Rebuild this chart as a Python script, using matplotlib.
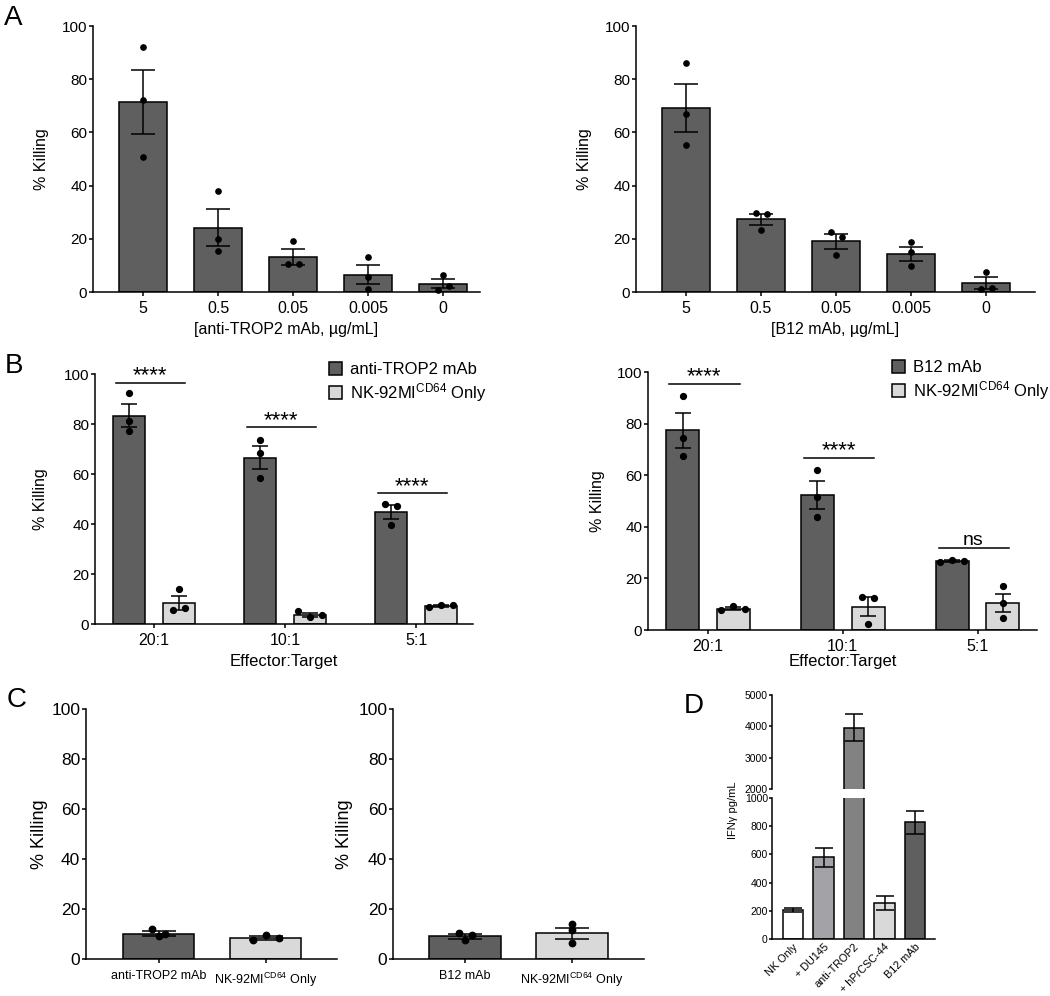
import matplotlib
matplotlib.use("Agg")
import matplotlib.pyplot as plt
from matplotlib.patches import Patch
import matplotlib.transforms as mtransforms

plt.rcParams['font.family'] = ['Liberation Sans', 'DejaVu Sans']
plt.rcParams['mathtext.fontset'] = 'custom'
plt.rcParams['mathtext.rm'] = 'Liberation Sans'
plt.rcParams['mathtext.it'] = 'Liberation Sans'

# ---------------- data ----------------
conc_labels = ['5', '0.5', '0.05', '0.005', '0']
a_trop_mean = [71.5, 24.2, 13.1, 6.5, 3.1]
a_trop_sem = [12.0, 7.0, 2.9, 3.6, 1.6]
a_trop_pts = [[92.2, 72.3, 50.6], [38.0, 19.8, 15.3], [19.0, 10.4, 10.7],
              [13.2, 5.6, 1.0], [6.4, 0.9, 2.4]]
a_b12_mean = [69.2, 27.3, 19.0, 14.3, 3.3]
a_b12_sem = [9.0, 2.1, 2.7, 2.6, 2.2]
a_b12_pts = [[86.1, 66.9, 55.3], [29.8, 29.4, 23.3], [22.6, 20.8, 13.9],
             [18.7, 14.9, 9.8], [7.5, 1.3, 1.4]]

et_labels = ['20:1', '10:1', '5:1']
b_trop_mean = [83.2, 66.5, 44.7]
b_trop_sem = [4.6, 4.5, 2.7]
b_trop_pts = [[92.3, 81.3, 77.2], [73.5, 68.3, 58.3], [48.1, 47.1, 39.7]]
b_nk1_mean = [8.4, 3.8, 7.3]
b_nk1_sem = [2.9, 0.8, 0.3]
b_nk1_pts = [[14.0, 5.5, 6.4], [5.3, 3.0, 3.5], [6.8, 7.6, 7.5]]
b_sig1_y = [96.4, 78.7, 52.3]
b_sig1_txt = ['****', '****', '****']

b_b12_mean = [77.4, 52.3, 26.7]
b_b12_sem = [6.9, 5.3, 0.3]
b_b12_pts = [[90.7, 74.6, 67.4], [62.2, 51.4, 43.9], [26.5, 27.1, 26.7]]
b_nk2_mean = [8.3, 9.0, 10.3]
b_nk2_sem = [0.7, 3.6, 3.5]
b_nk2_pts = [[7.7, 9.4, 8.3], [12.9, 12.5, 2.3], [16.9, 10.3, 4.8]]
b_sig2_y = [95.5, 66.7, 31.9]
b_sig2_txt = ['****', '****', 'ns']

c1_labels = ['anti-TROP2 mAb', 'NK-92MI$^{\\mathrm{CD64}}$ Only']
c1_mean = [10.2, 8.4]
c1_sem = [1.0, 0.7]
c1_pts = [[12.0, 9.1, 10.1], [7.5, 9.6, 8.3]]
c2_labels = ['B12 mAb', 'NK-92MI$^{\\mathrm{CD64}}$ Only']
c2_mean = [9.1, 10.4]
c2_sem = [1.0, 2.2]
c2_pts = [[7.7, 10.4, 9.5], [14.1, 11.5, 6.4]]

d_labels = ['NK Only', '+ DU145', 'anti-TROP2', '+ hPrCSC-44', 'B12 mAb']
d_mean = [205, 580, 3960, 255, 827]
d_sem = [12, 68, 420, 50, 82]
d_colors = ['#ffffff', '#a3a3a7', '#828282', '#d9d9d9', '#5f5f5f']

DARK = '#5f5f5f'
LIGHT = '#d9d9d9'
LW = 1.1

W, H = 1050, 996
fig = plt.figure(figsize=(W / 100, H / 100), dpi=100)


def ax_px(l, t, r, b):
    return fig.add_axes([l / W, 1 - b / H, (r - l) / W, (b - t) / H])


def style(ax, ytick_fs=11, xtick_fs=11.5, bottom=True):
    for s in ['top', 'right']:
        ax.spines[s].set_visible(False)
    ax.spines['left'].set_linewidth(LW)
    ax.spines['bottom'].set_linewidth(LW)
    if not bottom:
        ax.spines['bottom'].set_visible(False)
    ax.tick_params(axis='y', direction='out', length=3.2, width=LW, pad=1, labelsize=ytick_fs)
    ax.tick_params(axis='x', direction='out', length=3.2, width=LW, pad=3, labelsize=xtick_fs)


def swarm_x(ax, xc, ys, s_px=11, thr_px=6):
    p0 = ax.transData.transform((0, 0))
    p1 = ax.transData.transform((1, 1))
    ppx = p1[0] - p0[0]
    ppy = p1[1] - p0[1]
    order = sorted(range(len(ys)), key=lambda i: -ys[i])
    rows = []
    for i in order:
        if rows and abs(ys[rows[-1][0]] - ys[i]) * ppy < thr_px:
            rows[-1].append(i)
        else:
            rows.append([i])
    xs = [xc] * len(ys)
    for r in rows:
        r = sorted(r)
        n = len(r)
        for k, i in enumerate(r):
            xs[i] = xc + (k - (n - 1) / 2) * s_px / ppx
    return xs


def bars_with_pts(ax, xs, means, sems, pts, color, width, capsize, ms, s_px=11):
    ax.bar(xs, means, width=width, color=color, edgecolor='k', linewidth=LW, zorder=2)
    ax.errorbar(xs, means, yerr=sems, fmt='none', ecolor='k', elinewidth=LW,
                capsize=capsize, capthick=LW, zorder=3)
    for x, p in zip(xs, pts):
        px = swarm_x(ax, x, p, s_px=s_px)
        ax.plot(px, p, 'o', color='k', ms=ms, zorder=4, clip_on=False)


def set_label_px(ax, which, px, axes_l, axes_t, axes_r, axes_b):
    if which == 'y':
        ax.yaxis.set_label_coords((px - axes_l) / (axes_r - axes_l), 0.5)
    else:
        ax.xaxis.set_label_coords(0.5, (axes_b - px) / (axes_b - axes_t))


# ---------------- Panel A ----------------
for (l, t, r, b, means, sems, pts, xlab, ylx, x0) in [
        (93, 26, 480, 292, a_trop_mean, a_trop_sem, a_trop_pts, '[anti-TROP2 mAb, µg/mL]', 49, 143),
        (636, 26, 1035, 292, a_b12_mean, a_b12_sem, a_b12_pts, '[B12 mAb, µg/mL]', 592, 686)]:
    ax = ax_px(l, t, r, b)
    style(ax)
    ax.set_ylim(0, 100)
    ax.set_xlim((l - x0) / 75, (r - x0) / 75)
    ax.set_yticks([0, 20, 40, 60, 80, 100])
    xs = list(range(len(conc_labels)))
    ax.set_xticks(xs)
    ax.set_xticklabels(conc_labels)
    bars_with_pts(ax, xs, means, sems, pts, DARK, 0.65, 8.5, 3.8)
    ax.set_ylabel('% Killing', fontsize=11.5)
    set_label_px(ax, 'y', ylx, l, t, r, b)
    ax.set_xlabel(xlab, fontsize=11.5)
    set_label_px(ax, 'x', 322, l, t, r, b)

# ---------------- Panel B ----------------
for (l, t, r, b, m1, s1, p1, m2, s2, p2, sy, stxt, lab1, ylx, x0, sp, leg_xy) in [
        (95, 374, 473, 624, b_trop_mean, b_trop_sem, b_trop_pts, b_nk1_mean, b_nk1_sem, b_nk1_pts,
         b_sig1_y, b_sig1_txt, 'anti-TROP2 mAb', 48, 154, 131, (329, 362)),
        (648, 372, 1037, 630, b_b12_mean, b_b12_sem, b_b12_pts, b_nk2_mean, b_nk2_sem, b_nk2_pts,
         b_sig2_y, b_sig2_txt, 'B12 mAb', 605, 708, 134.8, (892, 360))]:
    ax = ax_px(l, t, r, b)
    style(ax, ytick_fs=11, xtick_fs=11.5)
    ax.set_ylim(0, 100)
    ax.set_xlim((l - x0) / sp, (r - x0) / sp)
    ax.set_yticks([0, 20, 40, 60, 80, 100])
    g = list(range(len(et_labels)))
    ax.set_xticks(g)
    ax.set_xticklabels(et_labels)
    off = 0.188
    bars_with_pts(ax, [x - off for x in g], m1, s1, p1, DARK, 0.245, 6, 4.2, s_px=12)
    bars_with_pts(ax, [x + off for x in g], m2, s2, p2, LIGHT, 0.245, 6, 4.2, s_px=12)
    for x, y, tx in zip(g, sy, stxt):
        ax.plot([x - 0.29, x + 0.235], [y, y], color='k', lw=LW, zorder=3, clip_on=False)
        if tx == 'ns':
            tr = mtransforms.offset_copy(ax.transData, fig=fig, x=0, y=3, units='dots')
            ax.text(x - 0.03, y, tx, fontsize=14, ha='center', va='baseline', transform=tr)
        else:
            tr = mtransforms.offset_copy(ax.transData, fig=fig, x=0, y=1.5, units='dots')
            ax.text(x - 0.03, y, tx, fontsize=16, ha='center', va='baseline', transform=tr)
    ax.set_ylabel('% Killing', fontsize=11.5)
    set_label_px(ax, 'y', ylx, l, t, r, b)
    ax.set_xlabel('Effector:Target', fontsize=12)
    set_label_px(ax, 'x', 654, l, t, r, b)
    handles = [Patch(facecolor=DARK, edgecolor='k', linewidth=LW),
               Patch(facecolor=LIGHT, edgecolor='k', linewidth=LW)]
    ax.legend(handles, [lab1, 'NK-92MI$^{\\mathrm{CD64}}$ Only'], loc='upper left',
              bbox_to_anchor=(leg_xy[0] / W, 1 - leg_xy[1] / H), bbox_transform=fig.transFigure,
              frameon=False, borderpad=0, borderaxespad=0, handlelength=0.8, handleheight=0.8,
              handletextpad=0.45, labelspacing=0.25, fontsize=12)

# ---------------- Panel C ----------------
for (l, t, r, b, labels, means, sems, pts, ylx, x0) in [
        (86, 709, 337, 959, c1_labels, c1_mean, c1_sem, c1_pts, 48, 158.7),
        (393, 709, 644, 959, c2_labels, c2_mean, c2_sem, c2_pts, 353, 465)]:
    ax = ax_px(l, t, r, b)
    style(ax, ytick_fs=12.5, xtick_fs=9)
    ax.set_ylim(0, 100)
    ax.set_xlim((l - x0) / 107, (r - x0) / 107)
    ax.set_yticks([0, 20, 40, 60, 80, 100])
    ax.set_xticks([0, 1])
    ax.set_xticklabels(labels)
    ax.tick_params(axis='x', pad=5)
    bars_with_pts(ax, [0, 1], means, sems, pts, None, 0.665, 12, 4.6, s_px=13)
    for patch, c in zip(ax.patches, [DARK, LIGHT]):
        patch.set_facecolor(c)
    ax.set_ylabel('% Killing', fontsize=13)
    set_label_px(ax, 'y', ylx, l, t, r, b)

# ---------------- Panel D ----------------
dl, dr = 772, 935
d_x0, d_sp = 793, 30.5
ax_lo = ax_px(dl, 798, dr, 939)
ax_hi = ax_px(dl, 695, dr, 789)
xs = list(range(len(d_labels)))
for ax in (ax_lo, ax_hi):
    style(ax, ytick_fs=7.5, xtick_fs=8, bottom=(ax is ax_lo))
    ax.tick_params(axis='y', length=2.5, pad=0.5)
    ax.set_xlim((dl - d_x0) / d_sp, (dr - d_x0) / d_sp)
    ax.bar(xs, d_mean, width=0.66, color=d_colors, edgecolor='k', linewidth=LW, zorder=2)
    ax.errorbar(xs, d_mean, yerr=d_sem, fmt='none', ecolor='k', elinewidth=LW,
                capsize=6.5, capthick=LW, zorder=3)
ax_lo.set_ylim(0, 1000)
ax_lo.set_yticks([0, 200, 400, 600, 800, 1000])
ax_lo.set_xticks(xs)
ax_lo.set_xticklabels(d_labels, rotation=45, ha='right', rotation_mode='anchor', fontsize=7.8)
ax_lo.tick_params(axis='x', length=0, pad=2)
ax_hi.set_ylim(2000, 5000)
ax_hi.set_yticks([2000, 3000, 4000, 5000])
ax_hi.set_xticks([])
fig.text(733 / W, 1 - 810 / H, 'IFNγ pg/mL', rotation=90, fontsize=8, ha='center', va='center')

# ---------------- panel letters ----------------
for txt, x, y in [('A', 4, 5), ('B', 5, 353), ('C', 7, 687), ('D', 684, 693)]:
    fig.text(x / W, 1 - y / H, txt, fontsize=20, ha='left', va='top')

fig.savefig('out.png', dpi=100)
